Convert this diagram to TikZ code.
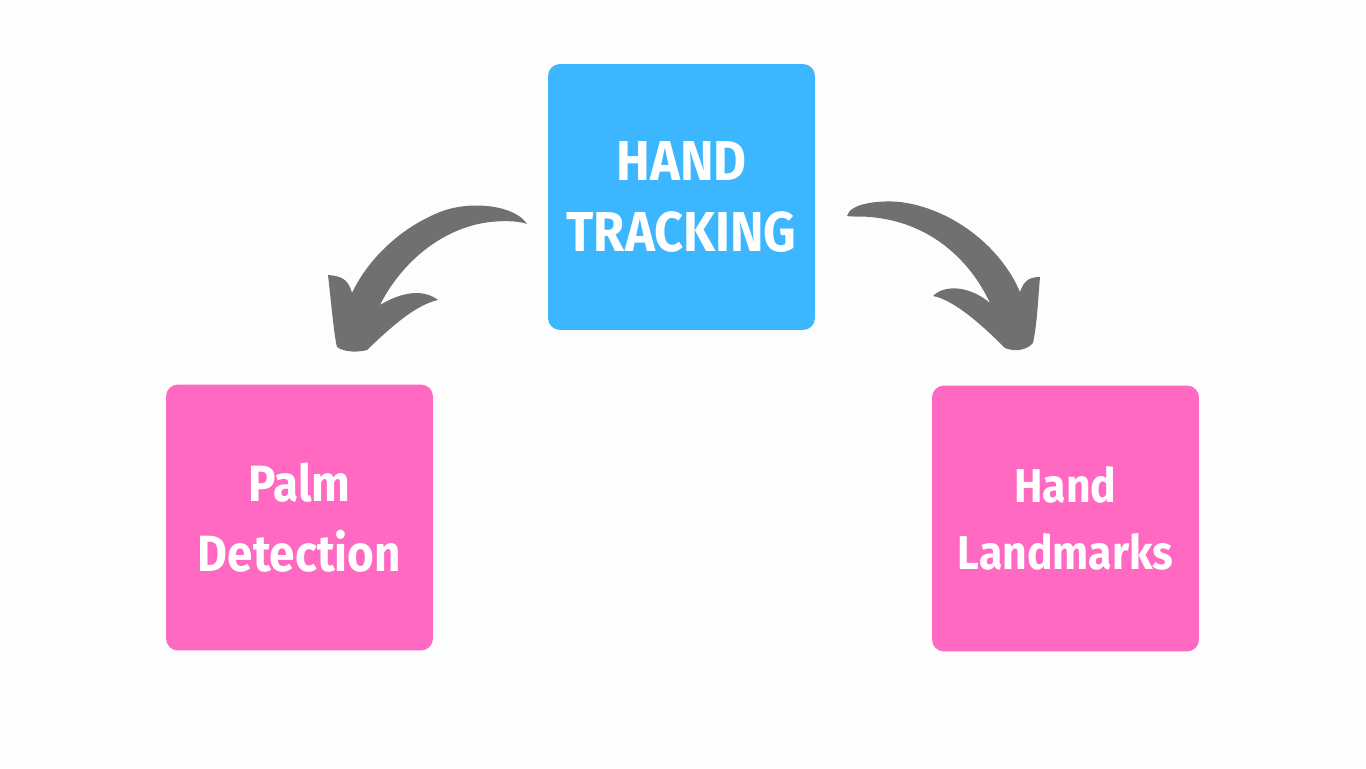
\documentclass[tikz,border=0pt]{standalone}
\usepackage{fontspec}
\newfontfamily\boxfont{Fira Sans}[FakeStretch=0.9]
\definecolor{topcolor}{RGB}{59,182,255}
\definecolor{subcolor}{RGB}{255,105,193}
\definecolor{arrowcolor}{RGB}{112,112,112}
\definecolor{bgcolor}{RGB}{253,253,253}
\usetikzlibrary{arrows.meta, positioning}

\begin{document}
\begin{tikzpicture}[
    x=0.02cm, y=-0.02cm,
    block/.style={rounded corners=0.24cm, minimum width=5.34cm, minimum height=5.32cm,
        inner sep=0pt, align=center, text=white},
    mainblock/.style={block, fill=topcolor, font=\boxfont\bfseries\fontsize{32}{40}\selectfont},
    subblock/.style={block, fill=subcolor, font=\boxfont\bfseries\fontsize{27}{38}\selectfont},
    curvearrow/.style={fill=arrowcolor}
]
    % Background
    \fill[bgcolor] (0,0) rectangle (1366,768);

    % Blocks
    \node[mainblock] (track) at (681.5,197) {HAND\\TRACKING};
    \node[subblock, font=\boxfont\bfseries\fontsize{29}{40}\selectfont] (palm) at (299.5,517.5) {Palm\\Detection};
    \node[subblock] (landmark) at (1065.5,518.5) {Hand\\Landmarks};

    % Hand drawn arrows
    \fill[curvearrow] (527,224) .. controls (515,205) and (470,200) .. (440,212)
        .. controls (395,230) and (365,265) .. (352,293)
        .. controls (348,278) and (340,276) .. (328,275)
        .. controls (332,310) and (334,335) .. (337,347)
        .. controls (345,353) and (360,352) .. (367,350)
        .. controls (390,328) and (415,305) .. (438,300)
        .. controls (425,290) and (405,290) .. (380,305)
        .. controls (400,265) and (440,228) .. (490,222)
        .. controls (510,220) and (522,222) .. (527,224) -- cycle;
    \fill[curvearrow] (847,216) .. controls (850,203) and (880,200) .. (900,202)
        .. controls (950,208) and (1000,245) .. (1020,292)
        .. controls (1024,280) and (1030,277) .. (1040,277)
        .. controls (1038,300) and (1037,325) .. (1033,343)
        .. controls (1025,352) and (1012,351) .. (1005,348)
        .. controls (985,328) and (955,300) .. (933,296)
        .. controls (945,284) and (970,286) .. (990,303)
        .. controls (970,260) and (930,222) .. (870,217)
        .. controls (860,216) and (850,217) .. (847,216) -- cycle;
\end{tikzpicture}
\end{document}
